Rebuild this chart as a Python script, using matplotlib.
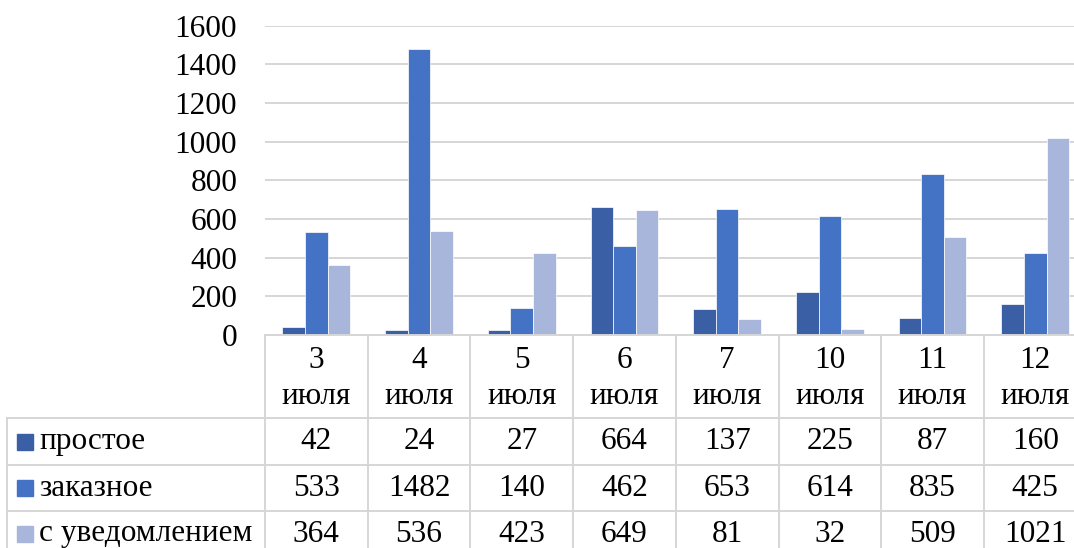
import matplotlib.pyplot as plt
import numpy as np

categories = ["3", "4", "5", "6", "7", "10", "11", "12"]
month_label = "июля"
series_names = ["простое", "заказное", "с уведомлением"]
prostoe = [42, 24, 27, 664, 137, 225, 87, 160]
zakaznoe = [533, 1482, 140, 462, 653, 614, 835, 425]
s_uvedom = [364, 536, 423, 649, 81, 32, 509, 1021]
colors = ["#3a5fa5", "#4472c4", "#a9b6db"]

plt.rcParams['font.family'] = ['Liberation Serif', 'DejaVu Serif']
W, H = 1074, 548
fs = 22.5
fig = plt.figure(figsize=(W / 100, H / 100), dpi=100)

# plot area in pixels (right edge runs past the image, as in the reference)
left_px, bottom_px, top_px, col_w = 265, 335, 25.7, 102.7
n = len(categories)
ax = fig.add_axes([left_px / W, 1 - bottom_px / H,
                   n * col_w / W, (bottom_px - top_px) / H])

grid_c = "#d6d6d6"
lw = 1.4
x = np.arange(n)
bw = 0.22
for i, vals in enumerate([prostoe, zakaznoe, s_uvedom]):
    ax.bar(x + (i - 1) * bw, vals, width=bw, color=colors[i],
           edgecolor="white", linewidth=0.5, zorder=3)

ax.set_xlim(-0.5, n - 0.5)
ax.set_ylim(0, 1600)
ax.set_yticks(np.arange(0, 1601, 200))
ax.tick_params(axis='y', length=0, pad=20, labelsize=fs)
ax.set_xticks([])
ax.grid(axis='y', color=grid_c, linewidth=lw, zorder=0)
for s in ax.spines.values():
    s.set_visible(False)


def fy(py):
    return 1 - py / H


def fx(px):
    return px / W


# data table under the chart
row_lines = [418, 465, 511, 557]
row_centers = [441.5, 488, 534]
right_px = left_px + n * col_w
fig.add_artist(plt.Line2D([fx(left_px), fx(right_px)], [fy(335), fy(335)],
                          color=grid_c, lw=lw))
for py in row_lines:
    fig.add_artist(plt.Line2D([fx(7), fx(right_px)], [fy(py), fy(py)],
                              color=grid_c, lw=lw))
fig.add_artist(plt.Line2D([fx(7), fx(7)], [fy(418), fy(557)], color=grid_c, lw=lw))
for k in range(n + 1):
    px = left_px + k * col_w
    fig.add_artist(plt.Line2D([fx(px), fx(px)], [fy(335), fy(557)],
                              color=grid_c, lw=lw))

for k, cat in enumerate(categories):
    cx = fx(left_px + (k + 0.5) * col_w)
    fig.text(cx, fy(361), cat, ha='center', va='center', fontsize=fs)
    fig.text(cx, fy(396), month_label, ha='center', va='center', fontsize=fs)
    for r, vals in enumerate([prostoe, zakaznoe, s_uvedom]):
        fig.text(cx, fy(row_centers[r]), str(vals[k]), ha='center',
                 va='center', fontsize=fs)

for r, name in enumerate(series_names):
    cy = row_centers[r]
    fig.add_artist(plt.Rectangle((fx(17), fy(cy + 8)), 16 / W, 16 / H,
                                 color=colors[r]))
    fig.text(fx(39), fy(cy), name, ha='left', va='center', fontsize=fs)

fig.savefig("out.png", dpi=100)
